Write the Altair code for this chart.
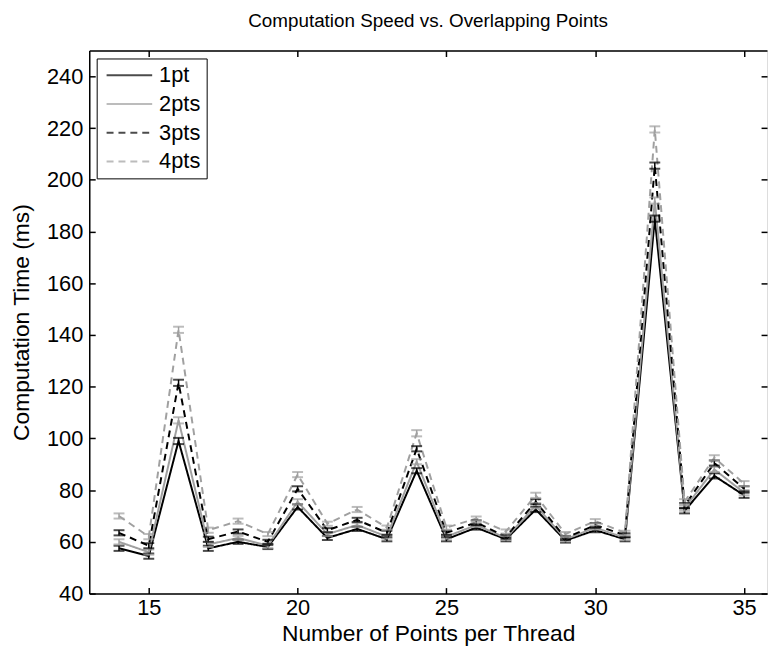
import altair as alt
import pandas as pd

# ---- data ----
points_per_thread = list(range(14, 36))
series_names = ["1pt", "2pts", "3pts", "4pts"]

time_1pt = [57.5, 54.5, 99.0, 57.5, 60.0, 58.0, 73.5, 61.5, 65.0, 61.0, 87.5,
            61.0, 65.5, 61.0, 72.5, 60.5, 64.5, 61.0, 185.0, 72.0, 85.5, 78.0]
time_2pts = [60.0, 56.0, 107.0, 59.0, 61.5, 58.5, 75.5, 63.0, 66.5, 62.0, 91.0,
             62.0, 66.5, 61.5, 74.0, 61.0, 65.5, 61.5, 192.0, 73.0, 88.0, 79.0]
time_3pts = [63.5, 58.5, 121.5, 61.0, 64.0, 60.0, 80.5, 64.5, 68.5, 63.5, 96.0,
             63.5, 67.5, 62.0, 75.5, 61.5, 66.5, 62.5, 205.5, 74.0, 90.5, 80.5]
time_4pts = [70.0, 62.0, 142.0, 64.5, 68.0, 63.0, 86.0, 67.0, 72.5, 65.5, 102.0,
             65.5, 69.0, 64.0, 78.0, 63.0, 68.0, 63.5, 219.5, 75.5, 92.5, 82.5]

err_1pt = [1.0, 1.0, 1.2, 1.0, 0.8, 0.8, 1.0, 0.8, 0.8, 0.8, 1.0,
           0.8, 0.8, 0.8, 1.0, 0.8, 0.8, 0.8, 1.2, 1.0, 1.0, 1.0]
err_2pts = [1.0, 1.0, 1.2, 1.0, 0.8, 0.8, 1.0, 0.8, 0.8, 0.8, 1.0,
            0.8, 0.8, 0.8, 1.0, 0.8, 0.8, 0.8, 1.2, 1.0, 1.0, 1.0]
err_3pts = [1.0, 1.0, 1.2, 1.0, 0.8, 0.8, 1.0, 0.8, 0.8, 0.8, 1.0,
            0.8, 0.8, 0.8, 1.0, 0.8, 0.8, 0.8, 1.2, 1.0, 1.0, 1.0]
err_4pts = [1.0, 1.0, 1.2, 1.0, 1.0, 0.8, 1.0, 0.8, 1.0, 0.8, 1.2,
            0.8, 0.8, 0.8, 1.0, 0.8, 0.8, 0.8, 1.2, 1.0, 1.0, 1.0]

x_ticks = [15, 20, 25, 30, 35]
y_ticks = [40, 60, 80, 100, 120, 140, 160, 180, 200, 220, 240]

rows = []
for name, vals, errs in zip(series_names,
                            [time_1pt, time_2pts, time_3pts, time_4pts],
                            [err_1pt, err_2pts, err_3pts, err_4pts]):
    for xv, v, e in zip(points_per_thread, vals, errs):
        rows.append({"n": xv, "series": name, "t": v, "lo": v - e, "hi": v + e})
df = pd.DataFrame(rows)

FONT = "Liberation Sans"
GREY = "#a0a0a0"
LABEL_SIZE = 22
TITLE_SIZE = 23

xscale = alt.Scale(domain=[13, 35.77], nice=False, zero=False)
yscale = alt.Scale(domain=[40, 250], nice=False, zero=False)

legend = alt.Legend(
    title=None, orient="none", legendX=7.5, legendY=8,
    symbolType="M-0.7,0H3.9", symbolSize=400, symbolStrokeWidth=2,
    labelFont=FONT, labelFontSize=LABEL_SIZE, labelColor="black", labelOffset=35,
    rowPadding=7, padding=6, strokeColor="black", fillColor="white",
    cornerRadius=0,
)

color = alt.Color("series:N",
                  scale=alt.Scale(domain=series_names,
                                  range=["#000000", GREY, "#000000", GREY]),
                  legend=legend)
dash = alt.StrokeDash("series:N",
                      scale=alt.Scale(domain=series_names,
                                      range=[[1, 0], [1, 0], [7, 5], [7, 5]]),
                      legend=legend)


def tick_axis(orient, values):
    return alt.Axis(orient=orient, values=values, domain=False, labels=False,
                    ticks=True, tickSize=6, tickWidth=1.5, tickColor="black",
                    offset=-6, title=None, grid=False)


def frame_axis(orient, values):
    return alt.Axis(orient=orient, values=values, domain=True, domainColor="black",
                    domainWidth=1.5, labels=False, ticks=False, title=None, grid=False)


lines = alt.Chart(df).mark_line(strokeWidth=2).encode(
    x=alt.X("n:Q", scale=xscale, axis=alt.Axis(
        orient="bottom", values=x_ticks, ticks=False, domain=True,
        domainColor="black", domainWidth=1.5, grid=False,
        labelFont=FONT, labelFontSize=LABEL_SIZE, labelColor="black", labelPadding=4,
        title="Number of Points per Thread", titleFont=FONT, titleFontSize=TITLE_SIZE,
        titleFontWeight="normal", titleColor="black", titlePadding=4)),
    y=alt.Y("t:Q", scale=yscale, axis=alt.Axis(
        orient="left", values=y_ticks, ticks=False, domain=True,
        domainColor="black", domainWidth=1.5, grid=False,
        labelFont=FONT, labelFontSize=LABEL_SIZE, labelColor="black", labelPadding=6.5,
        title="Computation Time (ms)", titleFont=FONT, titleFontSize=TITLE_SIZE,
        titleFontWeight="normal", titleColor="black", titlePadding=13)),
    color=color,
    strokeDash=dash,
)

rules = alt.Chart(df).mark_rule(strokeWidth=1.5).encode(
    x=alt.X("n:Q", scale=xscale, axis=tick_axis("bottom", x_ticks)),
    y=alt.Y("lo:Q", scale=yscale, axis=tick_axis("left", y_ticks)),
    y2="hi:Q",
    color=color,
)

caps_hi = alt.Chart(df).mark_tick(orient="horizontal", size=11, thickness=2).encode(
    x=alt.X("n:Q", scale=xscale, axis=frame_axis("top", x_ticks)),
    y=alt.Y("hi:Q", scale=yscale, axis=tick_axis("right", y_ticks)),
    color=color,
)

caps_lo = alt.Chart(df).mark_tick(orient="horizontal", size=11, thickness=2).encode(
    x=alt.X("n:Q", scale=xscale, axis=tick_axis("top", x_ticks)),
    y=alt.Y("lo:Q", scale=yscale, axis=None),
    color=color,
)

chart = alt.layer(lines, rules, caps_hi, caps_lo).resolve_scale(
    x="shared", y="shared"
).resolve_axis(
    x="independent", y="independent"
).properties(
    width=684, height=548,
    title=alt.Title("Computation Speed vs. Overlapping Points", font=FONT,
                    fontSize=19, fontWeight="normal", color="black",
                    anchor="middle", offset=19.5),
    padding={"left": 2, "top": 0, "right": 0, "bottom": 0},
).configure_view(stroke=None).configure(background="white")

chart.save("out.html", embed_options={"renderer": "svg", "actions": False})
